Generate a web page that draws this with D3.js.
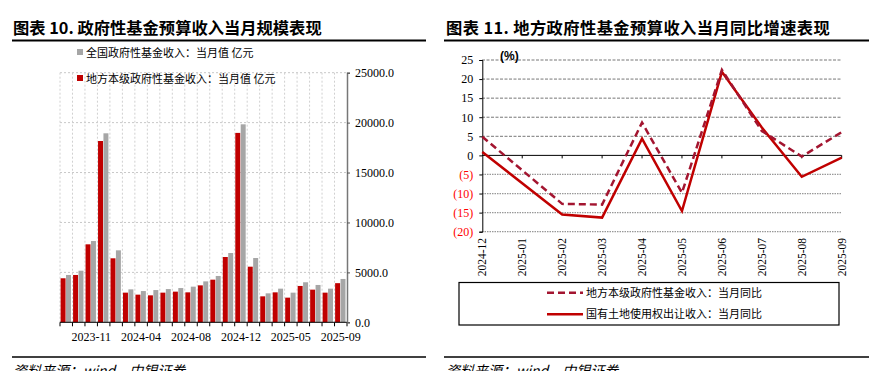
<!DOCTYPE html>
<meta charset="utf-8">
<style>
  body { margin: 0; background: #fff; }
  svg { display: block; font-family: "Liberation Serif", serif; }
  .cjk { font-family: "Noto Sans CJK SC", sans-serif; }
</style>
<script src="https://d3js.org/d3.v7.min.js"></script>
<svg width="869" height="371"></svg>
<script>
const svg = d3.select('svg');

// left chart: monthly amounts, 亿元
const months = ['2023-09','2023-10','2023-11','2023-12','2024-02','2024-03','2024-04','2024-05',
  '2024-06','2024-07','2024-08','2024-09','2024-10','2024-11','2024-12','2025-02','2025-03',
  '2025-04','2025-05','2025-06','2025-07','2025-08','2025-09'];
const nationalVal = [4740, 5170, 8140, 18930, 7210, 3300, 3130, 3230, 3330, 3430, 3570, 4100,
  4640, 6940, 19830, 6440, 2900, 3370, 2970, 4010, 3740, 3370, 4340];
const localVal = [4410, 4740, 7810, 18160, 6410, 2970, 2770, 2700, 2970, 3070, 3000, 3700,
  4270, 6540, 18970, 5570, 2600, 3000, 2470, 3640, 3270, 2970, 3920];
const leftTicks = [0, 5000, 10000, 15000, 20000, 25000];
const shownMonths = ['2023-11','2024-04','2024-08','2024-12','2025-05','2025-09'];

// right chart: yoy growth, %
const yoyMonths = ['2024-12','2025-01','2025-02','2025-03','2025-04','2025-05','2025-06','2025-07','2025-08','2025-09'];
const localYoY = [4.9, null, -12.7, -12.9, 8.6, -9.8, 22.4, 6.4, -0.3, 6.1];
const landYoY = [0.9, null, -15.5, -16.3, 4.4, -14.6, 21.9, 7.3, -5.6, -0.6];
const rightTicks = [-20, -15, -10, -5, 0, 5, 10, 15, 20, 25];

const red = '#c00000', grey = '#a6a6a6', maroon = '#a31530';

// titles and rules
svg.append('text').attr('class','cjk').attr('x',13).attr('y',34)
  .attr('font-size',16.3).attr('font-weight','bold').text('图表 10. 政府性基金预算收入当月规模表现');
svg.append('text').attr('class','cjk').attr('x',446).attr('y',34)
  .attr('font-size',16.3).attr('font-weight','bold').attr('letter-spacing',0.4)
  .text('图表 11. 地方政府性基金预算收入当月同比增速表现');
[[12,426],[444,869]].forEach(([a,b])=>{
  svg.append('line').attr('x1',a).attr('x2',b).attr('y1',40.5).attr('y2',40.5)
    .attr('stroke','#000').attr('stroke-width',1.8);
  svg.append('line').attr('x1',a).attr('x2',b).attr('y1',357).attr('y2',357)
    .attr('stroke','#000').attr('stroke-width',1.5);
});
[13,446].forEach(xx=>{
  svg.append('text').attr('class','cjk').attr('x',xx).attr('y',376).attr('font-size',14)
    .attr('font-style','italic').text('资料来源：wind，中银证券');
});

// ---- left chart
const x = d3.scaleBand().domain(months).range([60, 347]);
const sub = d3.scaleBand().domain(['local','national']).range([0.6, x.bandwidth()-1.5]).paddingInner(0.08);
const y = d3.scaleLinear().domain([0, 25000]).range([322.3, 72.7]);

const left = svg.append('g');
left.selectAll('.hg').data(leftTicks.slice(1)).join('line')
  .attr('x1',60).attr('x2',347).attr('y1',d=>y(d)).attr('y2',d=>y(d))
  .attr('stroke','#c8c8c8').attr('stroke-dasharray','2,2');
left.selectAll('.vg').data(months).join('line')
  .attr('x1',d=>x(d)).attr('x2',d=>x(d)).attr('y1',y(25000)).attr('y2',y(0))
  .attr('stroke','#d0d0d0').attr('stroke-dasharray','2,2');

left.selectAll('.rb').data(months).join('rect')
  .attr('x',d=>x(d)+sub('local')).attr('width',sub.bandwidth())
  .attr('y',(d,i)=>y(localVal[i])).attr('height',(d,i)=>y(0)-y(localVal[i]))
  .attr('fill',red);
left.selectAll('.gb').data(months).join('rect')
  .attr('x',d=>x(d)+sub('national')).attr('width',sub.bandwidth())
  .attr('y',(d,i)=>y(nationalVal[i])).attr('height',(d,i)=>y(0)-y(nationalVal[i]))
  .attr('fill',grey);

// x axis
left.append('line').attr('x1',60).attr('x2',347).attr('y1',y(0)).attr('y2',y(0)).attr('stroke','#000');
left.selectAll('.xt').data(months.concat(['end'])).join('line')
  .attr('x1',(d,i)=>60+i*x.step()).attr('x2',(d,i)=>60+i*x.step())
  .attr('y1',y(0)).attr('y2',y(0)+4).attr('stroke','#000');
left.selectAll('.xl').data(shownMonths).join('text')
  .attr('x',d=>x(d)+x.bandwidth()/2).attr('y',341).attr('text-anchor','middle')
  .attr('font-size',12).text(d=>d);

// right y axis
const ya = left.append('g').attr('transform','translate(347,0)')
  .call(d3.axisRight(y).tickValues(leftTicks).tickSize(3).tickFormat(d3.format('.1f')));
ya.select('.domain').attr('stroke','#777').attr('stroke-width',1.5);
ya.selectAll('.tick line').attr('stroke','#555');
ya.selectAll('text').attr('font-size',12).attr('font-family','Liberation Serif').attr('fill','#000').attr('x',8);

// legend
const lg = [['全国政府性基金收入：当月值 亿元', grey, 52.5], ['地方本级政府性基金收入：当月值 亿元', red, 78.5]];
lg.forEach(([t,c,yy])=>{
  svg.append('rect').attr('x',77).attr('y',yy-3.5).attr('width',6).attr('height',6).attr('fill',c);
  svg.append('text').attr('class','cjk').attr('x',86).attr('y',yy+4).attr('font-size',11).text(t);
});

// ---- right chart
const x2 = d3.scalePoint().domain(yoyMonths).range([482.3, 841.7]);
const y2 = d3.scaleLinear().domain([-20, 25]).range([231.7, 60]);
const right = svg.append('g');

right.selectAll('.hg').data(rightTicks.filter(d=>d!==0)).join('line')
  .attr('x1',482).attr('x2',841.7).attr('y1',d=>y2(d)).attr('y2',d=>y2(d))
  .attr('stroke',d=>d<0?'#999':'#777').attr('stroke-width',d=>d<0?1.3:1)
  .attr('stroke-dasharray',d=>d<0?'1.5,1':'3,1.5');

// zero axis with ticks
right.append('line').attr('x1',482).attr('x2',841.7).attr('y1',y2(0)).attr('y2',y2(0)).attr('stroke','#000');
right.selectAll('.xt').data(yoyMonths.slice(1)).join('line')
  .attr('x1',d=>x2(d)).attr('x2',d=>x2(d)).attr('y1',y2(0)).attr('y2',y2(0)+3).attr('stroke','#000');

// left y axis
const ya2 = right.append('g').attr('transform','translate(482.3,0)')
  .call(d3.axisLeft(y2).tickValues(rightTicks).tickSize(3).tickFormat(d=>d<0?`(${-d})`:d));
ya2.select('.domain').attr('stroke','#000');
ya2.selectAll('text').attr('font-size',12).attr('font-family','Liberation Serif')
  .attr('fill',d=>d<0?'#ff0000':'#000').attr('x',-9);

// x labels rotated
right.selectAll('.xl').data(yoyMonths).join('text')
  .attr('transform',d=>`translate(${x2(d)+4},238) rotate(-90)`)
  .attr('text-anchor','end').attr('font-size',11.5).text(d=>d);

svg.append('text').attr('x',500).attr('y',60).attr('font-size',12).attr('font-weight','bold')
  .attr('font-family','Liberation Sans').text('(%)');

const line = d3.line().x(d=>x2(d[0])).y(d=>y2(d[1]));
const pts = arr => yoyMonths.map((m,i)=>[m,arr[i]]).filter(d=>d[1]!==null);
right.append('path').datum(pts(landYoY)).attr('d',line).attr('fill','none')
  .attr('stroke',red).attr('stroke-width',2.5).attr('stroke-linejoin','miter');
right.append('path').datum(pts(localYoY)).attr('d',line).attr('fill','none')
  .attr('stroke',maroon).attr('stroke-width',2.5).attr('stroke-dasharray','7,4');

// legend box
svg.append('rect').attr('x',459).attr('y',282.5).attr('width',380).attr('height',42.5)
  .attr('fill','none').attr('stroke','#000').attr('stroke-width',1.2);
const lg2 = [['地方本级政府性基金收入：当月同比',maroon,'7,4',292.7], ['国有土地使用权出让收入：当月同比',red,null,314.3]];
lg2.forEach(([t,c,dash,yy])=>{
  svg.append('line').attr('x1',547).attr('x2',583).attr('y1',yy).attr('y2',yy)
    .attr('stroke',c).attr('stroke-width',2.5).attr('stroke-dasharray',dash);
  svg.append('text').attr('class','cjk').attr('x',586).attr('y',yy+4).attr('font-size',11).text(t);
});
</script>
